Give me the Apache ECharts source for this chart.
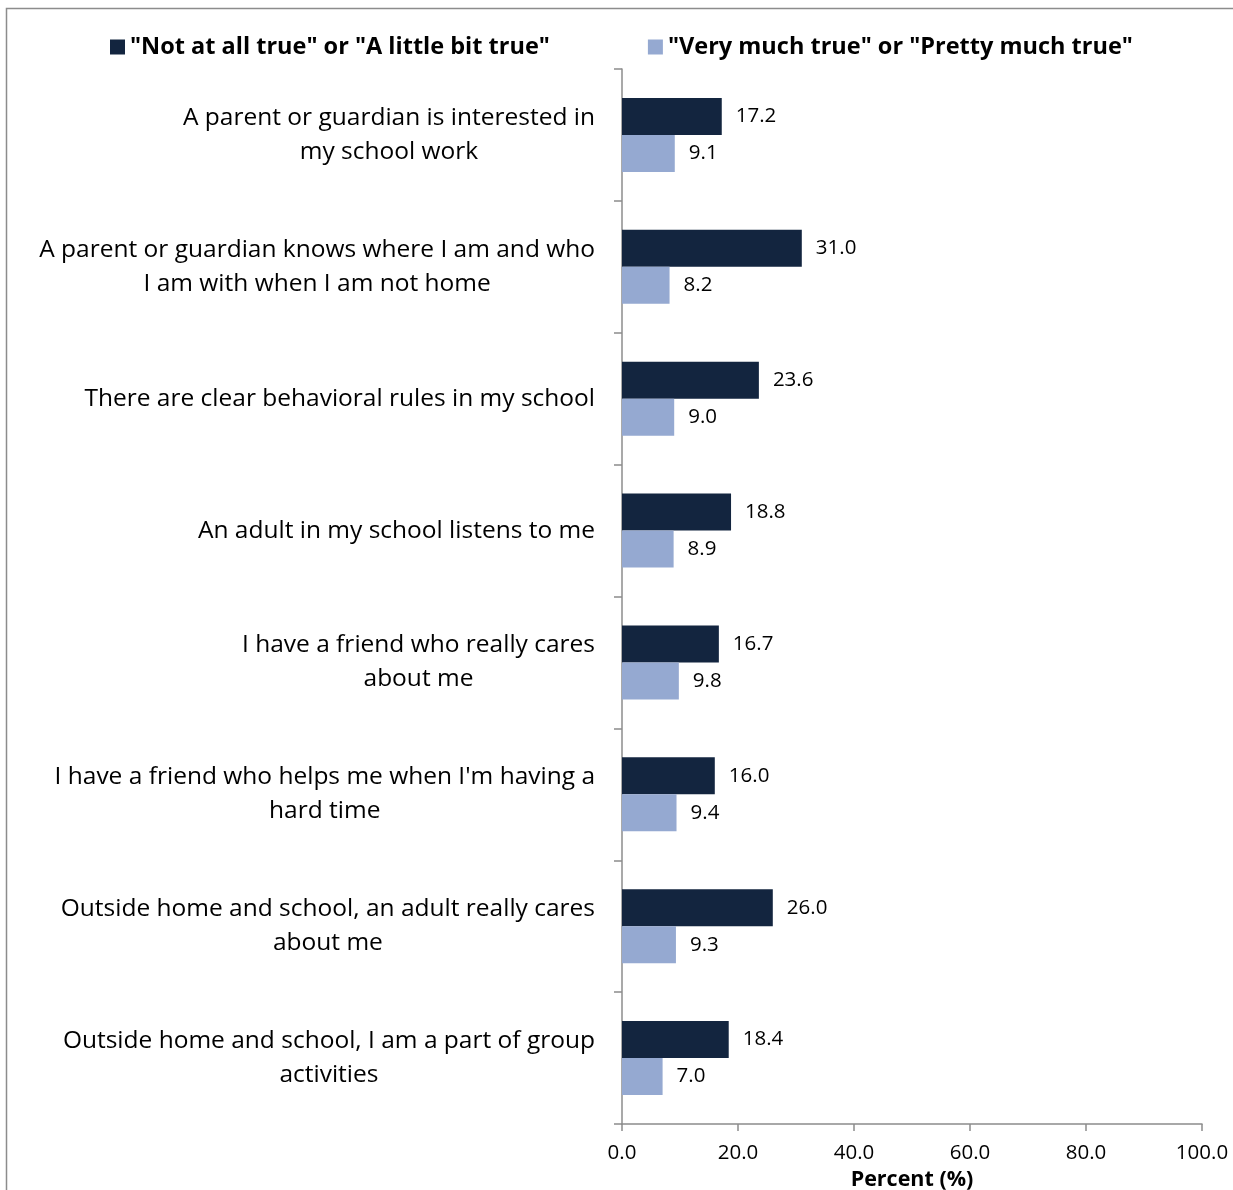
<!DOCTYPE html>
<html><head><meta charset="utf-8">
<script src="https://cdn.jsdelivr.net/npm/echarts@6/dist/echarts.min.js"></script>
<style>html,body{margin:0;padding:0;background:#fff;overflow:hidden;}#c{width:1233px;height:1190px;}</style>
</head><body><div id="c"></div>
<script>
const categories = [
  "A parent or guardian is interested in\nmy school work",
  "A parent or guardian knows where I am and who\nI am with when I am not home",
  "There are clear behavioral rules in my school",
  "An adult in my school listens to me",
  "I have a friend who really cares\nabout me",
  "I have a friend who helps me when I'm having a\nhard time",
  "Outside home and school, an adult really cares\nabout me",
  "Outside home and school, I am a part of group\nactivities"
];
const seriesNames = ['"Not at all true" or "A little bit true"', '"Very much true" or "Pretty much true"'];
const notTrue = [17.2, 31.0, 23.6, 18.8, 16.7, 16.0, 26.0, 18.4];
const veryTrue = [9.1, 8.2, 9.0, 8.9, 9.8, 9.4, 9.3, 7.0];
const xTicks = [0, 20, 40, 60, 80, 100];

const FONT = 'Open Sans';
const chart = echarts.init(document.getElementById('c'), null, {renderer: 'canvas', width: 1233, height: 1190});
chart.setOption({
  animation: false,
  backgroundColor: '#fff',
  textStyle: {fontFamily: FONT},
  graphic: [{type: 'rect', shape: {x: 6.5, y: 8.5, width: 1300, height: 1300}, style: {fill: 'none', stroke: '#8c8c8c', lineWidth: 1.5}, silent: true}],
  legend: {
    left: 110, top: 35, padding: 0, itemWidth: 15, itemHeight: 15, itemGap: 98,
    icon: 'rect',
    textStyle: {fontFamily: FONT, fontSize: 23.5, fontWeight: 'bold', color: '#000'},
    data: seriesNames
  },
  grid: {left: 622, width: 580, top: 69, height: 1055, containLabel: false, outerBoundsMode: 'none'},
  xAxis: {
    type: 'value', min: xTicks[0], max: xTicks[xTicks.length - 1], interval: 20,
    name: 'Percent (%)', nameLocation: 'middle', nameGap: 43,
    nameTextStyle: {fontFamily: FONT, fontSize: 21.5, fontWeight: 'bold', color: '#000'},
    axisLine: {show: true, lineStyle: {color: '#8c8c8c', width: 1.5}},
    axisTick: {show: true, length: 7, lineStyle: {color: '#8c8c8c', width: 1.5}},
    axisLabel: {fontFamily: FONT, fontSize: 20.5, color: '#000', margin: 19, formatter: v => v.toFixed(1)},
    splitLine: {show: false}
  },
  yAxis: {
    type: 'category', inverse: true, data: categories,
    axisLine: {show: true, lineStyle: {color: '#8c8c8c', width: 1.5}},
    axisTick: {show: true, length: 8, lineStyle: {color: '#8c8c8c', width: 1.5}},
    axisLabel: {
      margin: 27, align: 'right', lineHeight: 34,
      formatter: v => v.split('\n').map(s => '{c|' + s + '}').join('\n'),
      rich: {c: {fontFamily: FONT, fontSize: 24.5, color: '#000', align: 'center', lineHeight: 34}}
    }
  },
  series: [
    {name: seriesNames[0], type: 'bar', data: notTrue, barWidth: 37, barGap: '0%',
     itemStyle: {color: '#13253f'},
     label: {show: true, position: 'right', distance: 14, fontFamily: FONT, fontSize: 20.5, color: '#000', formatter: p => p.value.toFixed(1)}},
    {name: seriesNames[1], type: 'bar', data: veryTrue, barWidth: 37, barGap: '0%',
     itemStyle: {color: '#95a9d1'},
     label: {show: true, position: 'right', distance: 14, fontFamily: FONT, fontSize: 20.5, color: '#000', formatter: p => p.value.toFixed(1)}}
  ]
});
</script></body></html>
